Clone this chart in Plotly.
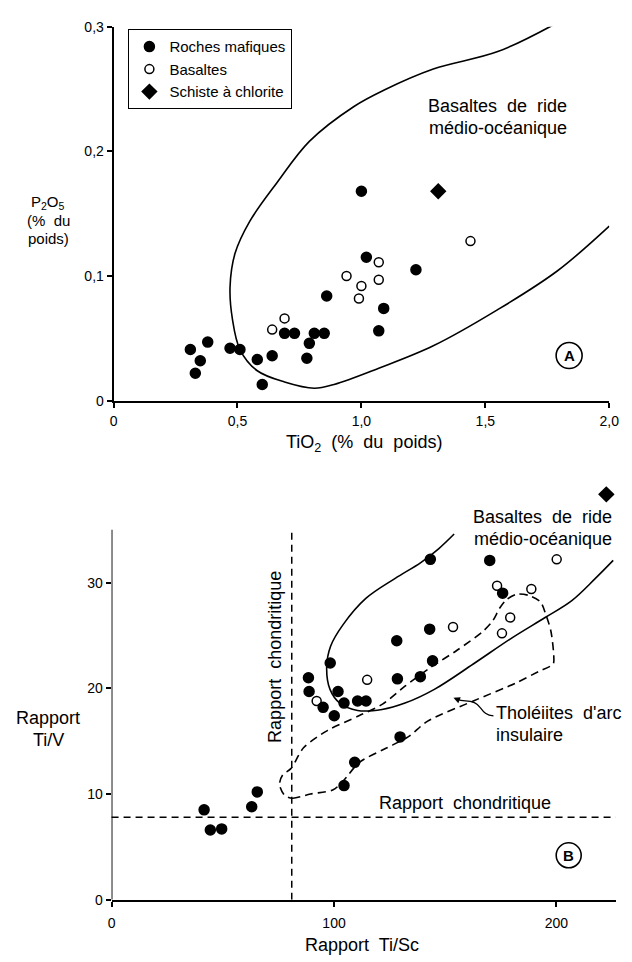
import plotly.graph_objects as go

W, H = 632, 962

# ---------------- Panel A data ----------------
a_mafic_x = [0.31, 0.33, 0.35, 0.38, 0.47, 0.51, 0.58, 0.60, 0.64, 0.69, 0.73, 0.78, 0.79, 0.81, 0.85, 0.86, 1.00, 1.02, 1.07, 1.09, 1.22]
a_mafic_y = [0.041, 0.022, 0.032, 0.047, 0.042, 0.041, 0.033, 0.013, 0.036, 0.054, 0.054, 0.034, 0.046, 0.054, 0.054, 0.084, 0.168, 0.115, 0.056, 0.074, 0.105]
a_basalt_x = [0.64, 0.69, 0.94, 1.00, 0.99, 1.07, 1.07, 1.44]
a_basalt_y = [0.057, 0.066, 0.100, 0.092, 0.082, 0.111, 0.097, 0.128]
a_schist_x = [1.31]
a_schist_y = [0.168]
a_morb_x = [1.77, 1.55, 1.29, 1.09, 0.97, 0.79, 0.66, 0.55, 0.49, 0.47, 0.48, 0.51, 0.58, 0.69, 0.81, 0.89, 1.07, 1.29, 1.55, 1.79, 2.00]
a_morb_y = [0.301, 0.280, 0.266, 0.249, 0.236, 0.208, 0.175, 0.144, 0.118, 0.091, 0.065, 0.041, 0.024, 0.015, 0.010, 0.013, 0.026, 0.044, 0.073, 0.104, 0.140]
a_xticks = [0, 0.5, 1.0, 1.5, 2.0]
a_xlabels = ["0", "0,5", "1,0", "1,5", "2,0"]
a_yticks = [0, 0.1, 0.2, 0.3]
a_ylabels = ["0", "0,1", "0,2", "0,3"]

# ---------------- Panel B data ----------------
b_mafic_x = [41.6, 44.4, 49.5, 63.0, 65.5, 88.5, 88.8, 95.1, 100.1, 98.3, 101.8, 104.5, 110.6, 114.4, 109.3, 104.5, 129.7, 128.2, 128.5, 138.8, 143.0, 144.3, 143.3, 170.0, 175.8]
b_mafic_y = [8.5, 6.6, 6.7, 8.8, 10.2, 21.0, 19.7, 18.2, 17.4, 22.4, 19.7, 18.6, 18.8, 18.8, 13.0, 10.8, 15.4, 24.5, 20.9, 21.1, 25.6, 22.6, 32.2, 32.1, 29.0]
b_basalt_x = [92.2, 114.9, 153.5, 173.3, 179.2, 175.5, 188.7, 200.1]
b_basalt_y = [18.8, 20.8, 25.8, 29.7, 26.7, 25.2, 29.4, 32.2]
b_schist_x = [222.4]
b_schist_y = [38.35]
b_morb_x = [154.0, 147.0, 139.0, 127.5, 114.3, 104.0, 98.5, 96.7, 98.2, 102.6, 110.6, 121.6, 131.9, 145.1, 162.6, 180.2, 194.9, 206.9, 217.5, 225.5]
b_morb_y = [34.6, 33.2, 31.9, 30.4, 28.5, 26.0, 24.0, 22.0, 19.9, 18.6, 17.9, 18.0, 18.6, 19.9, 22.3, 24.8, 26.7, 28.3, 30.4, 32.1]
b_arc_x = [77.7, 81.3, 89.4, 99.6, 104.0, 111.4, 123.1, 133.3, 142.1, 162.6, 181.7, 192.0, 198.5, 198.8, 197.5, 195.5, 192.7, 187.4, 182.1, 177.6, 174.5, 171.4, 167.0, 155.3, 143.6, 131.9, 121.8, 111.2, 97.0, 86.4, 80.6, 76.9, 75.5, 77.7]
b_arc_y = [9.9, 9.6, 10.0, 10.4, 11.2, 13.0, 14.3, 15.4, 16.9, 18.8, 20.5, 21.6, 22.3, 23.0, 25.4, 26.8, 28.2, 28.8, 28.9, 28.4, 27.6, 26.4, 25.4, 23.6, 22.0, 20.2, 18.5, 17.4, 16.0, 14.4, 12.4, 11.8, 10.9, 9.9]
b_chond_tisc = 81
b_chond_tiv = 7.8
b_xticks = [0, 100, 200]
b_yticks = [0, 10, 20, 30]

FONT = "Liberation Sans, Arial, sans-serif"
MS = 10

fig = go.Figure()

def pts(x, y, xa, ya, name, symbol, show, group, size=MS):
    fig.add_trace(go.Scatter(
        x=x, y=y, xaxis=xa, yaxis=ya, mode="markers", name=name,
        legendgroup=group, showlegend=show,
        marker=dict(symbol=symbol, size=size, color="black",
                    line=dict(color="black", width=1.5)),
        cliponaxis=False))

# Panel A curves and points
fig.add_trace(go.Scatter(x=a_morb_x, y=a_morb_y, xaxis="x", yaxis="y", mode="lines",
                         line=dict(color="black", width=1.6, shape="spline", smoothing=1.0),
                         showlegend=False, hoverinfo="skip"))
pts(a_mafic_x, a_mafic_y, "x", "y", "Roches mafiques", "circle", True, "m")
pts(a_basalt_x, a_basalt_y, "x", "y", "Basaltes", "circle-open", True, "b", 9)
pts(a_schist_x, a_schist_y, "x", "y", "Schiste à chlorite", "diamond", True, "s", 11)

# Panel B curves and points
fig.add_trace(go.Scatter(x=b_morb_x, y=b_morb_y, xaxis="x2", yaxis="y2", mode="lines",
                         line=dict(color="black", width=1.6, shape="spline", smoothing=1.0),
                         showlegend=False, hoverinfo="skip"))
fig.add_trace(go.Scatter(x=b_arc_x, y=b_arc_y, xaxis="x2", yaxis="y2", mode="lines",
                         line=dict(color="black", width=1.6, dash="8px,5px", shape="spline", smoothing=0.8),
                         showlegend=False, hoverinfo="skip"))
pts(b_mafic_x, b_mafic_y, "x2", "y2", "Roches mafiques", "circle", False, "m")
pts(b_basalt_x, b_basalt_y, "x2", "y2", "Basaltes", "circle-open", False, "b", 9)
pts(b_schist_x, b_schist_y, "x2", "y2", "Schiste à chlorite", "diamond", False, "s", 11)

# geometry (pixels)
ax_l, ax_r = 112, 619
ay_t, ay_b = 19, 399.3
bx_l, bx_r = 110, 625.5
by_t, by_b = 487.6, 906.8

def px(v): return v / W
def py(v): return 1 - v / H

axis_common = dict(showgrid=False, zeroline=False, showline=True, linecolor="black", linewidth=1.8,
                   ticks="outside", ticklen=5, tickwidth=1.5, tickcolor="black",
                   tickfont=dict(family=FONT, size=14, color="black"))

fig.update_layout(
    width=W, height=H, autosize=False,
    margin=dict(l=0, r=0, t=0, b=0),
    paper_bgcolor="white", plot_bgcolor="white",
    font=dict(family=FONT, color="black"),
    xaxis=dict(domain=[px(ax_l), px(ax_r)], range=[0, 2.0], anchor="y",
               tickvals=a_xticks, ticktext=a_xlabels, ticklabelstandoff=2, **axis_common),
    yaxis=dict(domain=[py(ay_b), py(ay_t)], range=[0, 0.3], anchor="x",
               tickvals=a_yticks, ticktext=a_ylabels, **axis_common),
    xaxis2=dict(domain=[px(bx_l), px(bx_r)], range=[0, 226.6], anchor="y2",
                tickvals=b_xticks, ticklabelstandoff=5, **axis_common),
    yaxis2=dict(domain=[py(by_b), py(by_t)], range=[0, 39], anchor="x2",
                tickvals=b_yticks, **{**axis_common, "showline": False}),
    legend=dict(x=px(127), y=py(21.5), xanchor="left", yanchor="top",
                bordercolor="black", borderwidth=1.2, bgcolor="white",
                font=dict(family=FONT, size=15, color="black"),
                itemwidth=30, tracegroupgap=0),
)

shapes = [
    # left axis of panel B (only up to 35)
    dict(type="line", xref="x2", yref="y2", x0=0, x1=0, y0=0, y1=35,
         line=dict(color="black", width=1.8)),
    # chondritic Ti/V
    dict(type="line", xref="x2 domain", yref="y2", x0=0, x1=1, y0=b_chond_tiv, y1=b_chond_tiv,
         line=dict(color="black", width=1.5, dash="7px,5px")),
    # chondritic Ti/Sc
    dict(type="line", xref="x2", yref="y2", x0=b_chond_tisc, x1=b_chond_tisc, y0=0, y1=35,
         line=dict(color="black", width=1.5, dash="7px,5px")),
    # circled labels
    dict(type="circle", xref="x", yref="y", xsizemode="pixel", ysizemode="pixel",
         xanchor=1.838, yanchor=0.0362, x0=-13, x1=13, y0=-13, y1=13,
         line=dict(color="black", width=1.6)),
    dict(type="circle", xref="x2", yref="y2", xsizemode="pixel", ysizemode="pixel",
         xanchor=205.5, yanchor=4.2, x0=-12.5, x1=12.5, y0=-12.5, y1=12.5,
         line=dict(color="black", width=1.6)),
    # curly leader for the island-arc label (pixels relative to the arrow tip)
    dict(type="path", xref="x2", yref="y2", xsizemode="pixel", ysizemode="pixel",
         xanchor=153.7, yanchor=19.1,
         path="M 40,-18 C 33,-18 30,-14 27,-10 C 23,-4 18,-3 12,-3 C 8,-3 5,-2 3,-1",
         line=dict(color="black", width=1.3)),
]
fig.update_layout(shapes=shapes)

def ann(text, x, y, xref="paper", yref="paper", size=16, xanchor="center", yanchor="middle",
        align="center", angle=0, bold=False):
    fig.add_annotation(text=("<b>%s</b>" % text) if bold else text, x=x, y=y, xref=xref, yref=yref,
                       showarrow=False, xanchor=xanchor, yanchor=yanchor, align=align,
                       textangle=angle, font=dict(family=FONT, size=size, color="black"))

# axis titles
ann("TiO<sub>2</sub>  (%  du  poids)", px(368), py(443), size=18)
ann("P<sub>2</sub>O<sub>5</sub>", px(45), py(198), size=15)
ann("(%  du", px(45), py(216), size=15)
ann("poids)", px(45), py(234), size=15)
ann("Rapport  Ti/Sc", px(366), py(953), size=18)
ann("Rapport", px(45), py(722), size=18)
ann("Ti/V", px(45), py(744), size=18)

# region labels
ann("Basaltes  de  ride", px(505), py(100), size=18)
ann("médio-océanique", px(505), py(122), size=18)
ann("Basaltes  de  ride", px(551), py(518), size=18)
ann("médio-océanique", px(551), py(540), size=18)
ann("Rapport  chondritique", px(471), py(808), size=18)
ann("Rapport  chondritique", px(277), py(660), size=18, angle=-90)
ann("Tholéiites  d'arc", px(501), py(717), size=18, xanchor="left", align="left")
ann("insulaire", px(501), py(739), size=18, xanchor="left", align="left")

# circled letters
ann("A", 1.838, 0.0362, xref="x", yref="y", size=15, bold=True)
ann("B", 205.5, 4.2, xref="x2", yref="y2", size=15, bold=True)

# arrow head for island arc tholeiites leader
fig.add_annotation(x=153.7, y=19.1, xref="x2", yref="y2", ax=5, ay=2, text="",
                   showarrow=True, arrowhead=2, arrowsize=1, arrowwidth=1.3, arrowcolor="black")

fig.write_html("out.html")
